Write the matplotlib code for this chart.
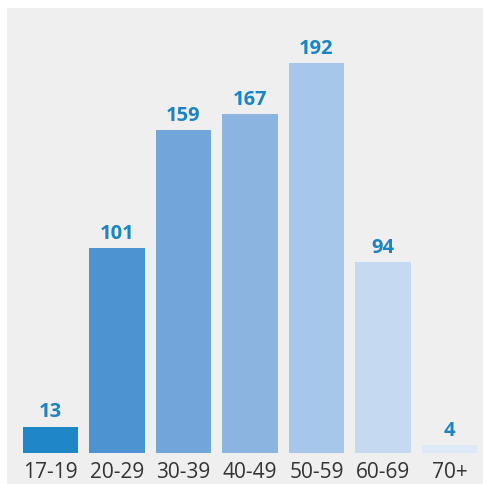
import matplotlib.pyplot as plt

ages = ['17-19', '20-29', '30-39', '40-49', '50-59', '60-69', '70+']
counts = [13, 101, 159, 167, 192, 94, 4]
colors = ['#1f87c8', '#4d93d2', '#72a5d9', '#8bb5e0', '#a6c6ea', '#c5d9f0', '#dde9f6']

fig = plt.figure(figsize=(4.83, 4.84), dpi=100)
ax = fig.add_axes([7 / 483, 0, 476 / 483, 476 / 484])
ax.set_facecolor('#efefef')

x = list(range(len(ages)))
ax.bar(x, counts, width=0.84, color=colors)

for i, v in enumerate(counts):
    ax.text(i, v + 2, str(v), ha='center', va='bottom', fontsize=14.5,
            fontweight='bold', color='#1b84c5', family='Open Sans')
    ax.text(i, -9.5, ages[i], ha='center', va='center', fontsize=15,
            color='#333333', family='Open Sans')

ax.set_xlim(-0.654, 6.504)
ax.set_ylim(-15.3, 219.2)
ax.set_xticks([])
ax.set_yticks([])
for s in ax.spines.values():
    s.set_visible(False)

fig.savefig('out.png', dpi=100, facecolor='white')
